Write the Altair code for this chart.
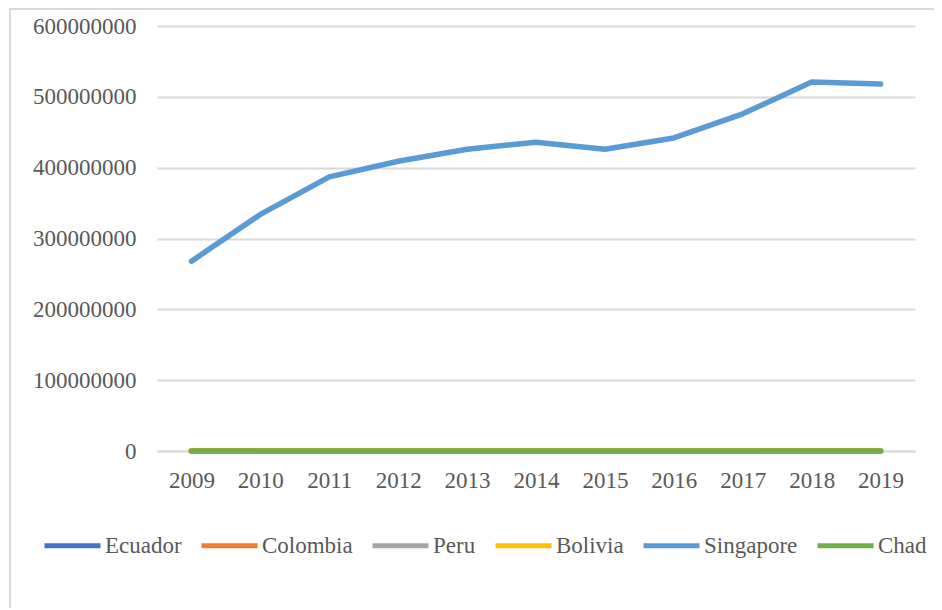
import altair as alt
import pandas as pd

years = ["2009", "2010", "2011", "2012", "2013", "2014", "2015", "2016", "2017", "2018", "2019"]
series_names = ["Ecuador", "Colombia", "Peru", "Bolivia", "Singapore", "Chad"]
series_colors = ["#4472C4", "#ED7D31", "#A5A5A5", "#FFC000", "#5B9BD5", "#70AD47"]

ecuador = [0, 0, 0, 0, 0, 0, 0, 0, 0, 0, 0]
colombia = [0, 0, 0, 0, 0, 0, 0, 0, 0, 0, 0]
peru = [0, 0, 0, 0, 0, 0, 0, 0, 0, 0, 0]
bolivia = [0, 0, 0, 0, 0, 0, 0, 0, 0, 0, 0]
singapore = [268000000, 334000000, 387000000, 409000000, 426000000, 436000000,
             426000000, 442000000, 476000000, 521000000, 518000000]
chad = [0, 0, 0, 0, 0, 0, 0, 0, 0, 0, 0]

y_ticks = [0, 100000000, 200000000, 300000000, 400000000, 500000000, 600000000]

values = [ecuador, colombia, peru, bolivia, singapore, chad]
rows = []
for name, vals in zip(series_names, values):
    for yr, v in zip(years, vals):
        rows.append({"year": yr, "country": name, "value": v})
df = pd.DataFrame(rows)

FONT = "Liberation Serif"
GRAY = "#595959"
GRID = "#d9d9d9"

lines = alt.Chart(df).mark_line(strokeWidth=5.5, strokeCap="round", strokeJoin="round").encode(
    x=alt.X("year:O", sort=years,
            scale=alt.Scale(type="point", padding=0.5),
            axis=alt.Axis(title=None, labelAngle=0, ticks=False, domain=True,
                          domainColor=GRID, domainWidth=2, grid=False,
                          labelFont=FONT, labelFontSize=23, labelColor=GRAY,
                          labelPadding=18)),
    y=alt.Y("value:Q",
            scale=alt.Scale(domain=[0, 600000000], nice=False),
            axis=alt.Axis(title=None, values=y_ticks, format="d", ticks=False,
                          domain=False, gridColor=GRID, gridWidth=2,
                          labelFont=FONT, labelFontSize=23, labelColor=GRAY,
                          labelPadding=21)),
    color=alt.Color("country:N", sort=series_names,
                    scale=alt.Scale(domain=series_names, range=series_colors),
                    legend=alt.Legend(title=None, orient="none", direction="horizontal",
                                      columns=6, legendX=-115, legendY=489,
                                      symbolType="stroke", symbolSize=3136,
                                      symbolStrokeWidth=5, labelOffset=2,
                                      columnPadding=9, padding=0,
                                      labelFont=FONT, labelFontSize=23,
                                      labelColor=GRAY)),
    order=alt.Order("year:O"),
)

border = alt.Chart(pd.DataFrame({"a": [0]})).mark_rect(
    fillOpacity=0, stroke=GRID, strokeWidth=2
).encode(
    x=alt.value(-147), x2=alt.value(900),
    y=alt.value(-17), y2=alt.value(800),
)

chart = alt.layer(border, lines).properties(
    width=758, height=425,
    autosize=alt.AutoSizeParams(type="none"),
    padding={"left": 149, "top": 18, "right": 19, "bottom": 157},
).configure(font=FONT).configure_view(stroke=None)

chart.save("out.html", embed_options={"renderer": "svg", "actions": False})
